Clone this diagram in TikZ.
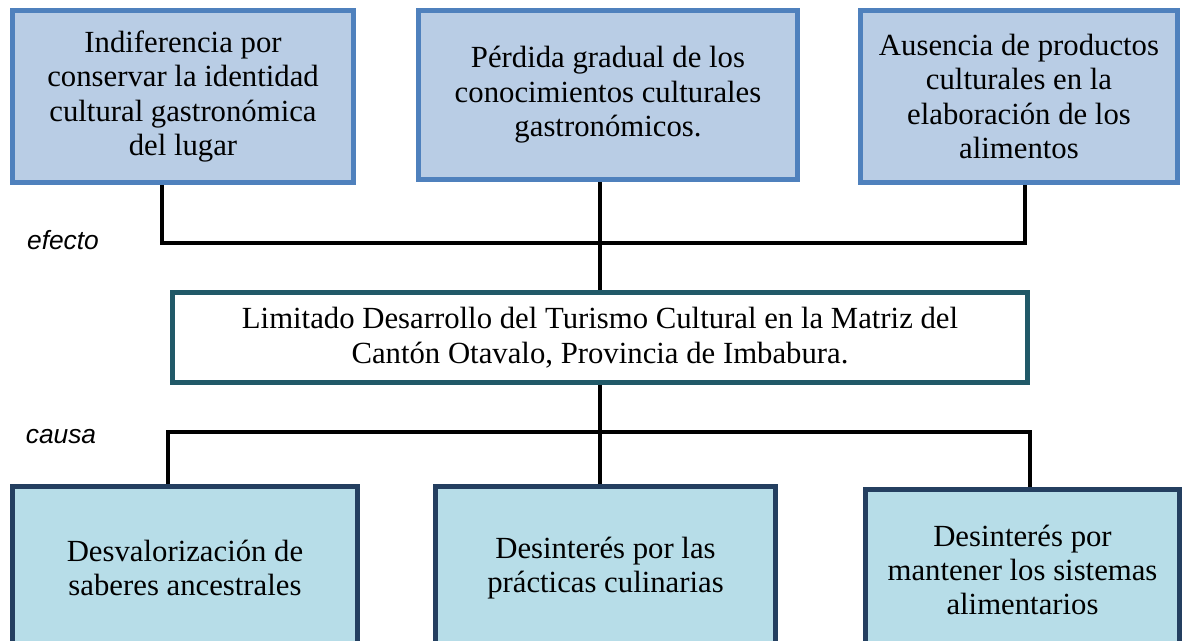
\documentclass[tikz,border=0pt]{standalone}
\usepackage{fontspec}
\setmainfont{Liberation Serif}
\setsansfont{Liberation Sans}
\usetikzlibrary{positioning,backgrounds}
\definecolor{efectofill}{HTML}{B9CDE5}
\definecolor{efectoline}{HTML}{4F81BD}
\definecolor{causafill}{HTML}{B7DDE8}
\definecolor{causaline}{HTML}{243F60}
\definecolor{probline}{HTML}{215968}

\begin{document}
\begin{tikzpicture}[x=0.02cm,y=-0.02cm,
  caja/.style={line width=2.8pt,align=center,inner sep=0pt,
    font={\fontsize{17.5}{19.6}\selectfont}},
  efecto/.style={caja,draw=efectoline,fill=efectofill},
  causa/.style={caja,draw=causaline,fill=causafill},
  problema/.style={caja,draw=probline,fill=white},
  linea/.style={line width=2.8pt,black},
  etiq/.style={font={\sffamily\itshape\fontsize{15}{18}\selectfont}}]
\useasboundingbox (0,0) rectangle (1188,641);
% efectos
\node[efecto,minimum width=6.82cm,minimum height=3.44cm] (ef1) at (183,96.5)
  {Indiferencia por\\conservar la identidad\\cultural gastronómica\\del lugar};
\node[efecto,minimum width=7.58cm,minimum height=3.38cm] (ef2) at (608,95)
  {Pérdida gradual de los\\conocimientos culturales\\gastronómicos.};
\node[efecto,minimum width=6.34cm,minimum height=3.44cm] (ef3) at (1019,96.5)
  {Ausencia de productos\\culturales en la\\elaboración de los\\alimentos};
% problema central
\node[problema,minimum width=17.1cm,minimum height=1.8cm] (prob) at (600,337.5)
  {Limitado Desarrollo del Turismo Cultural en la Matriz del\\Cantón Otavalo, Provincia de Imbabura.};
% causas
\node[causa,minimum width=6.9cm,minimum height=3.27cm] (ca1) at (185,568)
  {Desvalorización de\\saberes ancestrales};
\node[causa,minimum width=6.8cm,minimum height=3.27cm] (ca2) at (605.5,568)
  {Desinterés por las\\prácticas culinarias};
\node[causa,minimum width=6.28cm,minimum height=3.21cm] (ca3) at (1022.5,570)
  {Desinterés por\\mantener los sistemas\\alimentarios};
\node[etiq] (lefecto) at (63,240) {efecto};
\node[etiq] (lcausa) at (61,437) {causa};
\coordinate (el) at (162,243);
\coordinate (er) at (1025,243);
\coordinate (cl) at (168,432);
\coordinate (cr) at (1030,432);
\begin{scope}[on background layer]
  \draw[linea] (ef1.south -| el) |- (er) -- (ef3.south -| er);
  \draw[linea] (prob.north |- ef2.south) -- (prob.north);
  \draw[linea] (prob.south) -- (prob.south |- ca2.north);
  \draw[linea] (ca1.north -| cl) |- (cr) -- (ca3.north -| cr);
\end{scope}
\end{tikzpicture}
\end{document}
